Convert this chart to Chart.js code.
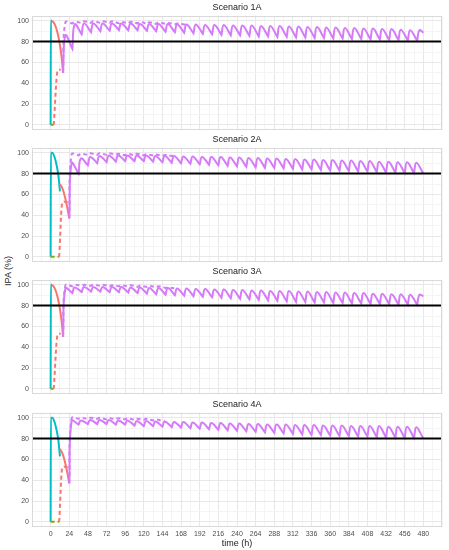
<!DOCTYPE html>
<html>
<head>
<meta charset="utf-8">
<script src="https://cdn.jsdelivr.net/npm/chart.js@4.4.0/dist/chart.umd.min.js"></script>
<style>
  body { margin: 0; background: #fff; }
  #wrap { position: relative; width: 449px; height: 550px; overflow: hidden; font-family: "Liberation Sans", Arial, sans-serif; }
  #wrap canvas { position: absolute; left: 0; }
  #ylab { position: absolute; left: -22px; top: 265px; width: 60px; height: 12px; line-height: 12px; text-align: center;
          transform: rotate(-90deg); font-size: 9px; color: #1a1a1a; }
</style>
</head>
<body>
<div id="wrap">
  <div id="ylab">IPA (%)</div>
</div>
<script>
const scenarios = ["Scenario 1A", "Scenario 2A", "Scenario 3A", "Scenario 4A"];
const threshold = 80;
const timeTicks = [0, 24, 48, 72, 96, 120, 144, 168, 192, 216, 240, 264, 288, 312, 336, 360, 384, 408, 432, 456, 480];
const ipaTicks = [0, 20, 40, 60, 80, 100];

// loading phase, scenarios 1A and 3A
const tealTimeA = [0, 0.3, 2];
const tealValA = [0, 100, 100];
const redTimeA = [2, 5, 8, 11, 14, 16];
const redValA = [100, 97, 91, 81, 66, 50];
const redDashTimeA = [4, 9, 13];
const redDashValA = [0, 52, 53];
const greenTimeA = [0, 4];
const greenValA = [0, 0];

// loading phase, scenarios 2A and 4A
const tealTimeB = [0, 0.3, 2, 5, 8, 10, 12];
const tealValB = [0, 100, 100, 96, 87, 78, 63];
const redTimeB = [12, 15, 18, 21, 24];
const redValB = [70, 66, 59, 49, 37];
const redDashTimeB = [11, 15, 19, 24];
const redDashValB = [0, 52, 53, 51];
const greenTimeB = [0, 11];
const greenValB = [0, 0];

// maintenance: one dose every 12 h, value at each dose (low) and ~3 h later (peak)
const doseStart = [16, 24, 16, 24];
const doseEvery = 12;
const peakDelay = 3;
const endTime = 480;

const low1A = [50, 73, 87, 89, 90, 90.5, 91, 91, 91, 90.5, 90, 89.5, 89, 88.5, 88, 87.5, 87, 86.5, 86, 86,
  85.5, 85, 85, 84.5, 84.5, 84, 84, 83.5, 83.5, 83, 83, 82.5, 82.5, 82, 82, 81.5, 81.5, 81, 81, 88.5];
const peak1A = [86, 96.5, 97.5, 97.5, 97.5, 97.5, 97.5, 97.5, 97, 97, 97, 97, 96.5, 96.5, 96.5, 96, 96, 96, 95.5, 95.5,
  95.5, 95, 95, 95, 94.5, 94.5, 94, 94, 93.5, 93.5, 93, 93, 92.5, 92.5, 92, 92, 91.5, 91, 91];
const lowDash1A = [50, 97.5, 98, 98, 98, 98, 97.5, 97.5, 97.5, 97, 97, 97, 96.5, 96.5];
const peakDash1A = [98.5, 99, 99.5, 99.5, 99.5, 99.5, 99, 99, 99, 98.5, 98.5, 98, 97.5, 96.5];

const low2A = [37, 80, 88, 90, 91, 91.5, 92, 92, 92, 91.5, 91, 90.5, 90, 89.5, 89, 88.5, 88, 87.5, 87, 86.5,
  86, 85.5, 85.5, 85, 84.5, 84, 84, 83.5, 83, 83, 82.5, 82, 82, 81.5, 81, 81, 80.5, 80.5, 80];
const peak2A = [90, 94.5, 96, 97, 97.5, 97.5, 97.5, 97.5, 97.5, 97, 97, 97, 96.5, 96.5, 96, 96, 96, 95.5, 95.5, 95,
  95, 94.5, 94.5, 94, 94, 93.5, 93.5, 93, 93, 92.5, 92.5, 92, 92, 91.5, 91.5, 91, 91, 90.5];
const lowDash2A = [37, 97.5, 98, 98, 98, 98, 97.5, 97.5, 97.5, 97.5, 97, 97];
const peakDash2A = [98.5, 99, 99.5, 99.5, 99.5, 99, 99, 99, 98.5, 98.5, 98, 97.5];

const low3A = [50, 92, 93, 93.5, 93.5, 93, 93, 92.5, 92, 91.5, 91, 90.5, 90, 89.5, 89, 88.5, 88, 87.5, 87, 86.5,
  86, 85.5, 85, 84.5, 84, 83.5, 83.5, 83, 83, 82.5, 82.5, 82, 82, 81.5, 81.5, 81.5, 81, 81, 81, 89];
const peak3A = [96.5, 97.5, 98, 98, 98, 98, 98, 97.5, 97.5, 97, 97, 97, 96.5, 96.5, 96, 96, 95.5, 95.5, 95, 95,
  94.5, 94.5, 94, 94, 94, 93.5, 93.5, 93, 93, 92.5, 92.5, 92, 92, 91.5, 91.5, 91, 91, 90.5, 90.5];
const lowDash3A = [50, 98.5, 99, 99, 99, 98.5, 98.5, 98.5, 98, 98, 97.5, 97, 96.5];
const peakDash3A = [99.5, 100, 100, 100, 100, 99.5, 99.5, 99.5, 99, 99, 98.5, 97.5, 96.5];

const low4A = [37, 93.5, 94, 94, 94, 93.5, 93.5, 92.5, 92, 92, 91.5, 91, 90.5, 90, 89.5, 89, 88.5, 88, 87.5, 87,
  86.5, 86, 85.5, 85, 84.5, 84, 83.5, 83.5, 83, 82.5, 82.5, 82, 82, 81.5, 81, 81, 80.5, 80.5, 80];
const peak4A = [97, 97.5, 98, 98, 98, 97.5, 97.5, 97, 97, 96.5, 96.5, 96, 96, 95.5, 95.5, 95, 95, 94.5, 94.5, 94,
  94, 93.5, 93.5, 93.5, 93, 93, 93, 92.5, 92.5, 92.5, 92, 92, 92, 92, 91.5, 91.5, 91.5, 91];
const lowDash4A = [37, 99, 99, 99, 98.5, 98.5, 98.5, 98, 98, 97.5, 97];
const peakDash4A = [99.5, 100, 100, 100, 99.5, 99.5, 99.5, 99, 99, 98.5, 96.5];

const loading = [
  { teal: [tealTimeA, tealValA], red: [redTimeA, redValA], redDash: [redDashTimeA, redDashValA], green: [greenTimeA, greenValA] },
  { teal: [tealTimeB, tealValB], red: [redTimeB, redValB], redDash: [redDashTimeB, redDashValB], green: [greenTimeB, greenValB] },
  { teal: [tealTimeA, tealValA], red: [redTimeA, redValA], redDash: [redDashTimeA, redDashValA], green: [greenTimeA, greenValA] },
  { teal: [tealTimeB, tealValB], red: [redTimeB, redValB], redDash: [redDashTimeB, redDashValB], green: [greenTimeB, greenValB] }
];
const maint = [
  { low: low1A, peak: peak1A, lowDash: lowDash1A, peakDash: peakDash1A },
  { low: low2A, peak: peak2A, lowDash: lowDash2A, peakDash: peakDash2A },
  { low: low3A, peak: peak3A, lowDash: lowDash3A, peakDash: peakDash3A },
  { low: low4A, peak: peak4A, lowDash: lowDash4A, peakDash: peakDash4A }
];

const xMin = -24, xMax = 504, yMin = -5, yMax = 105;
const FONT = "'Liberation Sans', Arial, sans-serif";
const MAGENTA = "#D57AF8";

function pairs(ts, vs) {
  return ts.map((t, i) => ({ x: t, y: vs[i] }));
}

function doseCurve(start, lows, peaks) {
  const pts = [];
  for (let i = 0; i < lows.length; i++) {
    const t = Math.min(start + i * doseEvery, endTime);
    pts.push({ x: t, y: lows[i] });
    // repeated point keeps the trough sharp with bezier smoothing
    if (i > 0 && i < peaks.length) pts.push({ x: t, y: lows[i] });
    if (i < peaks.length) pts.push({ x: t + peakDelay, y: peaks[i] });
  }
  return pts;
}

const panelBorder = {
  id: "panelBorder",
  afterDraw(chart) {
    const { ctx, chartArea: a } = chart;
    ctx.save();
    ctx.strokeStyle = "#d9d9d9";
    ctx.lineWidth = 1;
    ctx.strokeRect(Math.round(a.left) + 0.5, Math.round(a.top) + 0.5, Math.round(a.width) - 1, Math.round(a.height) - 1);
    ctx.restore();
  }
};

const xGrid = [];
for (let v = xMin; v <= xMax; v += 12) xGrid.push(v);
const yGrid = [0, 10, 20, 30, 40, 50, 60, 70, 80, 90, 100];

const tops = [0, 132, 264, 397];
const wrap = document.getElementById("wrap");

scenarios.forEach((name, i) => {
  const last = i === scenarios.length - 1;
  const h = last ? 550 - tops[i] : 130;
  const canvas = document.createElement("canvas");
  canvas.width = 449;
  canvas.height = h;
  canvas.style.width = "449px";
  canvas.style.height = h + "px";
  canvas.style.top = tops[i] + "px";
  wrap.appendChild(canvas);

  const L = loading[i], M = maint[i];
  const line = (data, color, dashed, extra) => Object.assign({
    data: data, borderColor: color, backgroundColor: color, borderWidth: 2,
    borderDash: dashed ? [4, 3] : [], pointRadius: 0, fill: false
  }, extra || {});

  new Chart(canvas, {
    type: "line",
    data: {
      datasets: [
        line([{ x: xMin, y: threshold }, { x: xMax, y: threshold }], "#000000", false, { tension: 0 }),
        line(doseCurve(doseStart[i], M.lowDash, M.peakDash), MAGENTA, true, { tension: 0.4 }),
        line(doseCurve(doseStart[i], M.low, M.peak), MAGENTA, false, { tension: 0.4 }),
        line(pairs(L.redDash[0], L.redDash[1]), "#F8766D", true, { cubicInterpolationMode: "monotone" }),
        line(pairs(L.red[0], L.red[1]), "#F8766D", false, { cubicInterpolationMode: "monotone" }),
        line(pairs(L.green[0], L.green[1]), "#7CAE00", true, { tension: 0 }),
        line(pairs(L.teal[0], L.teal[1]), "#00BFC4", false, { cubicInterpolationMode: "monotone" })
      ]
    },
    options: {
      responsive: false,
      animation: false,
      layout: { padding: { left: 0, right: 7, top: 0, bottom: 0 } },
      plugins: {
        legend: { display: false },
        tooltip: { enabled: false },
        title: {
          display: true, text: name, color: "#1a1a1a",
          fullSize: false, // centre the strip title over the panel, not the canvas
          font: { family: FONT, size: 9, weight: "normal", lineHeight: 1.2 },
          padding: { top: 2.5, bottom: 2.3 }
        }
      },
      scales: {
        x: {
          type: "linear", min: xMin, max: xMax,
          afterBuildTicks: s => { s.ticks = xGrid.map(v => ({ value: v })); },
          afterFit: s => {
            s.height = last ? h - 15.6 - 114.4 : 0;
            s.paddingLeft = 0; s.paddingRight = 0;
          },
          border: { display: false },
          grid: {
            drawTicks: false,
            color: c => (c.tick && timeTicks.includes(c.tick.value)) ? "#e8e8e8" : "#f4f4f4",
            lineWidth: 1
          },
          ticks: {
            display: last, autoSkip: false, maxRotation: 0, padding: 3,
            color: "#4d4d4d", font: { family: FONT, size: 7 },
            callback: v => timeTicks.includes(v) ? String(v) : ""
          },
          title: {
            display: last, text: "time (h)", color: "#1a1a1a",
            font: { family: FONT, size: 9 }, padding: { top: 0, bottom: 1 }
          }
        },
        y: {
          min: yMin, max: yMax,
          afterBuildTicks: s => { s.ticks = yGrid.map(v => ({ value: v })); },
          afterFit: s => {
            s.width = 32;
            s.paddingTop = 0; s.paddingBottom = 0;
          },
          border: { display: false },
          grid: {
            drawTicks: false,
            color: c => (c.tick && ipaTicks.includes(c.tick.value)) ? "#e8e8e8" : "#f4f4f4",
            lineWidth: 1
          },
          ticks: {
            autoSkip: false, padding: 3,
            color: "#4d4d4d", font: { family: FONT, size: 7 },
            callback: v => ipaTicks.includes(v) ? String(v) : ""
          }
        }
      }
    },
    plugins: [panelBorder]
  });
});
</script>
</body>
</html>
